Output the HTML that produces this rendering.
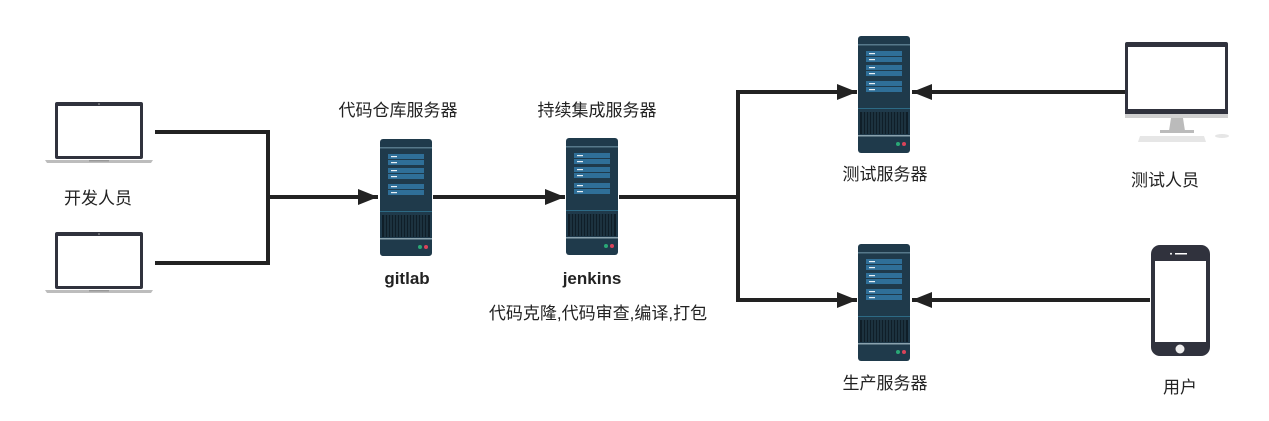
<!DOCTYPE html>
<html><head><meta charset="utf-8"><style>
body{margin:0;background:#fff;}
svg text{font-family:"Liberation Sans","Noto Sans CJK SC",sans-serif;font-size:17px;fill:#222;text-anchor:middle;}
</style></head><body>
<svg width="1269" height="416" viewBox="0 0 1269 416" xmlns="http://www.w3.org/2000/svg">
<defs>
<g id="srv">
<rect x="0" y="0" width="52" height="117" rx="3" fill="#1f3a4b"/>
<rect x="0" y="8" width="52" height="1.5" fill="#56788a"/>
<g fill="#2f6f98">
<rect x="8" y="15" width="36" height="5"/><rect x="8" y="21" width="36" height="5"/>
<rect x="8" y="29" width="36" height="5"/><rect x="8" y="35" width="36" height="5"/>
<rect x="8" y="45" width="36" height="5"/><rect x="8" y="51" width="36" height="5"/>
</g>
<g fill="#e8f0f5">
<rect x="11" y="17" width="6" height="1.2"/><rect x="11" y="23" width="6" height="1.2"/>
<rect x="11" y="31" width="6" height="1.2"/><rect x="11" y="37" width="6" height="1.2"/>
<rect x="11" y="47" width="6" height="1.2"/><rect x="11" y="53" width="6" height="1.2"/>
</g>
<rect x="0" y="72" width="52" height="1" fill="#2d6a85"/>
<rect x="2" y="76" width="48" height="22" fill="#0f1e28"/>
<g stroke="#2a4656" stroke-width="1">
<path d="M5 76V98M8 76V98M11 76V98M14 76V98M17 76V98M20 76V98M23 76V98M26 76V98M29 76V98M32 76V98M35 76V98M38 76V98M41 76V98M44 76V98M47 76V98"/>
</g>
<rect x="0" y="99" width="52" height="1.5" fill="#8aa2ae"/>
<circle cx="40" cy="108" r="2" fill="#2aa876"/>
<circle cx="46" cy="108" r="2" fill="#d9435a"/>
</g>
<g id="lap">
<rect x="12" y="0" width="88" height="57" rx="2" fill="#30323d"/>
<rect x="15" y="4" width="82" height="50" fill="#fff"/>
<circle cx="56" cy="2" r="0.8" fill="#aaa"/>
<path d="M2 58 H110 L108 61 H4 Z" fill="#bdbdbd"/>
<rect x="46" y="58" width="20" height="1.5" fill="#999"/>
</g>
<marker id="ah" markerWidth="5" markerHeight="4" refX="5" refY="2" orient="auto" markerUnits="strokeWidth">
<path d="M0 0 L5 2 L0 4 Z" fill="#222"/>
</marker>
</defs>

<g stroke="#222" stroke-width="4" fill="none">
<path d="M155 132 H268 V263 H155"/>
<path d="M268 197 H378" marker-end="url(#ah)"/>
<path d="M433 197 H565" marker-end="url(#ah)"/>
<path d="M619 197 H738"/>
<path d="M738 92 V300"/>
<path d="M736 92 H857" marker-end="url(#ah)"/>
<path d="M736 300 H857" marker-end="url(#ah)"/>
<path d="M1125 92 H912" marker-end="url(#ah)"/>
<path d="M1150 300 H912" marker-end="url(#ah)"/>
</g>

<use href="#lap" x="43" y="102"/>
<use href="#lap" x="43" y="232"/>

<use href="#srv" x="380" y="139"/>
<use href="#srv" x="566" y="138"/>
<use href="#srv" x="858" y="36"/>
<use href="#srv" x="858" y="244"/>

<!-- monitor -->
<rect x="1125" y="42" width="103" height="76" rx="2" fill="#30323d"/>
<rect x="1128" y="47" width="97" height="62" fill="#fff"/>
<rect x="1125" y="109" width="103" height="9" fill="#30323d"/>
<rect x="1125" y="114" width="103" height="4" fill="#d0d0d0"/>
<path d="M1171 118 H1183 L1185 131 H1169 Z" fill="#bbb"/>
<rect x="1160" y="130" width="34" height="3" fill="#bbb"/>
<path d="M1140 136 H1204 L1206 142 H1138 Z" fill="#e6e6e6"/>
<ellipse cx="1222" cy="136" rx="7" ry="2" fill="#e6e6e6"/>

<!-- phone -->
<rect x="1151" y="245" width="59" height="111" rx="9" fill="#30323d"/>
<rect x="1155" y="261" width="51" height="81" fill="#fff"/>
<rect x="1175" y="253" width="12" height="1.5" fill="#fff"/>
<circle cx="1171" cy="253.7" r="1" fill="#fff"/>
<circle cx="1180" cy="349" r="4.5" fill="#eee"/>

<text x="398" y="116">代码仓库服务器</text>
<text x="597" y="116">持续集成服务器</text>
<text x="407" y="284" style="font-weight:bold">gitlab</text>
<text x="592" y="284" style="font-weight:bold">jenkins</text>
<text x="598" y="319">代码克隆,代码审查,编译,打包</text>
<text x="98" y="204">开发人员</text>
<text x="885" y="180">测试服务器</text>
<text x="1165" y="186">测试人员</text>
<text x="885" y="389">生产服务器</text>
<text x="1180" y="393">用户</text>
</svg>
</body></html>
